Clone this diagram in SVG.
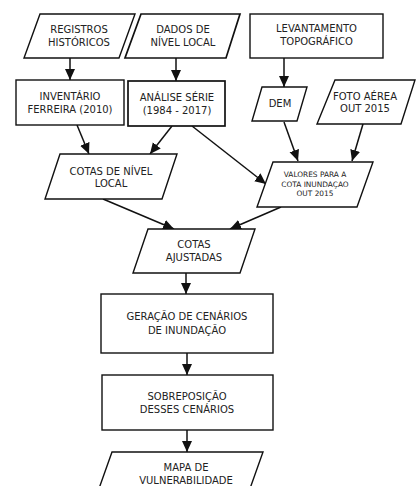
<svg xmlns="http://www.w3.org/2000/svg" width="417" height="486" viewBox="0 0 417 486">
<style>
.s{fill:#fff;stroke:#111;stroke-width:1.4}
.b{stroke-width:1.7}
text{font-family:"DejaVu Sans",sans-serif;font-size:10px;fill:#222;text-anchor:middle}
.sm{font-size:7.4px}
.c{stroke:#111;stroke-width:1.5;fill:none;marker-end:url(#ah)}
</style>
<defs>
<marker id="ah" markerUnits="userSpaceOnUse" markerWidth="12" markerHeight="12" viewBox="0 0 12 12" refX="11" refY="6" orient="auto">
<path d="M0,1 L11,6 L0,11 Z" fill="#111"/>
</marker>
</defs>
<rect width="417" height="486" fill="#fff"/>
<g id="connectors">
<line class="c" x1="70" y1="58" x2="70" y2="80"/>
<line class="c" x1="176" y1="58" x2="176" y2="81"/>
<line class="c" x1="284" y1="58" x2="284" y2="87"/>
<line class="c" x1="77" y1="125" x2="89" y2="154"/>
<line class="c" x1="172" y1="126" x2="150" y2="154"/>
<line class="c" x1="192" y1="126" x2="266" y2="184"/>
<line class="c" x1="284" y1="122" x2="298" y2="161"/>
<line class="c" x1="363" y1="124" x2="352" y2="161"/>
<line class="c" x1="103" y1="199" x2="174" y2="229"/>
<line class="c" x1="281" y1="207" x2="230" y2="229"/>
<line class="c" x1="186" y1="273" x2="186" y2="294"/>
<line class="c" x1="187" y1="353" x2="187" y2="375"/>
<line class="c" x1="187" y1="430" x2="187" y2="452"/>
</g>
<g id="registros">
<polygon class="s" points="40,14 135,14 119,58 24,58"/>
<text x="79" y="33">REGISTROS</text>
<text x="79" y="46">HISTÓRICOS</text>
</g>
<g id="dados">
<polygon class="s b" points="141,14 240,14 226,58 125,58"/>
<text x="183" y="33">DADOS DE</text>
<text x="183" y="46">NÍVEL LOCAL</text>
</g>
<g id="levantamento">
<rect class="s" x="250" y="14" width="133" height="44"/>
<text x="316.5" y="32">LEVANTAMENTO</text>
<text x="316.5" y="45">TOPOGRÁFICO</text>
</g>
<g id="inventario">
<rect class="s" x="16" y="80" width="108" height="45"/>
<text x="70" y="100">INVENTÁRIO</text>
<text x="70" y="113">FERREIRA (2010)</text>
</g>
<g id="analise">
<rect class="s b" x="128" y="81" width="97" height="45"/>
<text x="177" y="101">ANÁLISE SÉRIE</text>
<text x="177" y="114">(1984 - 2017)</text>
</g>
<g id="dem">
<polygon class="s" points="262,87 307,87 297,121 252,121"/>
<text x="280" y="107">DEM</text>
</g>
<g id="foto">
<polygon class="s" points="335,80 415,80 401,124 317,124"/>
<text x="365" y="100">FOTO AÉREA</text>
<text x="365" y="112">OUT 2015</text>
</g>
<g id="cotas-nivel">
<polygon class="s" points="60,154 177,154 162,199 45,199"/>
<text x="111" y="175">COTAS DE NÍVEL</text>
<text x="111" y="187">LOCAL</text>
</g>
<g id="valores">
<polygon class="s" points="273,162 373,162 357,207 257,207"/>
<text class="sm" x="315" y="177">VALORES  PARA A</text>
<text class="sm" x="315" y="187">COTA INUNDAÇAO</text>
<text class="sm" x="315" y="196">OUT 2015</text>
</g>
<g id="cotas-ajustadas">
<polygon class="s" points="148,229 255,229 240,273 133,273"/>
<text x="194" y="248">COTAS</text>
<text x="194" y="261">AJUSTADAS</text>
</g>
<g id="geracao">
<rect class="s" x="101" y="294" width="172" height="59"/>
<text x="187" y="320">GERAÇÃO DE CENÁRIOS</text>
<text x="187" y="334">DE INUNDAÇÃO</text>
</g>
<g id="sobreposicao">
<rect class="s" x="102" y="375" width="171" height="55"/>
<text x="187" y="400">SOBREPOSIÇÃO</text>
<text x="187" y="413">DESSES CENÁRIOS</text>
</g>
<g id="mapa">
<polygon class="s" points="112,452 263,452 247,497 96,497"/>
<text x="186" y="471">MAPA DE</text>
<text x="186" y="484">VULNERABILIDADE</text>
</g>
</svg>
